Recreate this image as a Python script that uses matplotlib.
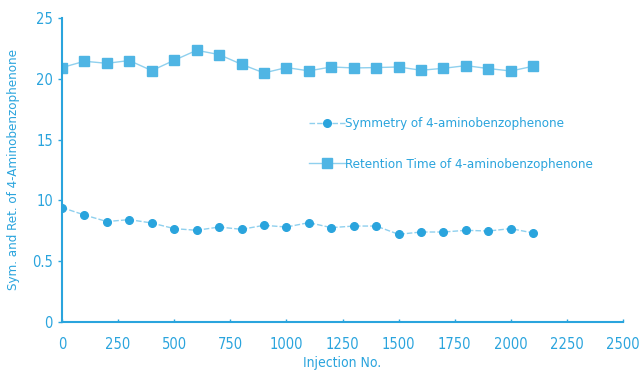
import matplotlib
matplotlib.use("Agg")
import matplotlib.pyplot as plt
import numpy as np

plt.rcParams['font.family'] = ['DejaVu Sans']
plt.rcParams['font.stretch'] = 'condensed'

injections = [0, 100, 200, 300, 400, 500, 600, 700, 800, 900, 1000,
              1100, 1200, 1300, 1400, 1500, 1600, 1700, 1800, 1900, 2000, 2100]
symmetry = [9.41, 8.80, 8.26, 8.42, 8.14, 7.68, 7.54, 7.81, 7.62, 7.95, 7.81,
            8.17, 7.76, 7.89, 7.89, 7.21, 7.40, 7.40, 7.54, 7.48, 7.68, 7.32]
retention = [20.92, 21.44, 21.27, 21.50, 20.67, 21.52, 22.34, 21.99, 21.19, 20.48, 20.92,
             20.65, 20.97, 20.89, 20.92, 20.97, 20.70, 20.86, 21.08, 20.84, 20.64, 21.03]

xticks = [0, 250, 500, 750, 1000, 1250, 1500, 1750, 2000, 2250, 2500]
yticks = [0, 5, 10, 15, 20, 25]
ytick_labels = ["0", "0.5", "10", "15", "20", "25"]

blue = "#2aa4dd"
pale = "#8fd0ee"

fig = plt.figure(figsize=(6.39, 3.74), dpi=100)
ax = fig.add_axes([0.097, 0.139, 0.878, 0.813])

ax.plot(injections, symmetry, color=pale, linestyle=(0, (4, 1.5)), linewidth=1.0,
        marker="o", markersize=5.5, markerfacecolor=blue, markeredgecolor=blue,
        label="Symmetry of 4-aminobenzophenone")
ax.plot(injections, retention, color=pale, linewidth=1.0,
        marker="s", markersize=7.5, markerfacecolor="#4fb5e4", markeredgecolor="#4fb5e4",
        label="Retention Time of 4-aminobenzophenone")

ax.set_xlim(0, 2500)
ax.set_ylim(0, 25)
ax.set_xticks(xticks)
ax.set_yticks(yticks)
ax.set_yticklabels(ytick_labels)

for side in ["top", "right"]:
    ax.spines[side].set_visible(False)
for side in ["left", "bottom"]:
    ax.spines[side].set_color(blue)
    ax.spines[side].set_linewidth(1.5)

ax.tick_params(axis="both", colors=blue, labelsize=10.5, length=3, width=1)
ax.tick_params(axis="x", direction="in", length=2, pad=11)

ax.set_xlabel("Injection No.", color=blue, fontsize=10, labelpad=3)
ax.set_ylabel("Sym. and Ret. of 4-Aminobenzophenone", color=blue, fontsize=9.5, labelpad=9)

leg = ax.legend(loc="upper left", bbox_to_anchor=(0.42, 0.712), frameon=False,
                fontsize=9.5, handlelength=2.7, handletextpad=0.0,
                labelspacing=2.1, labelcolor=blue)

fig.savefig("out.png", dpi=100)
